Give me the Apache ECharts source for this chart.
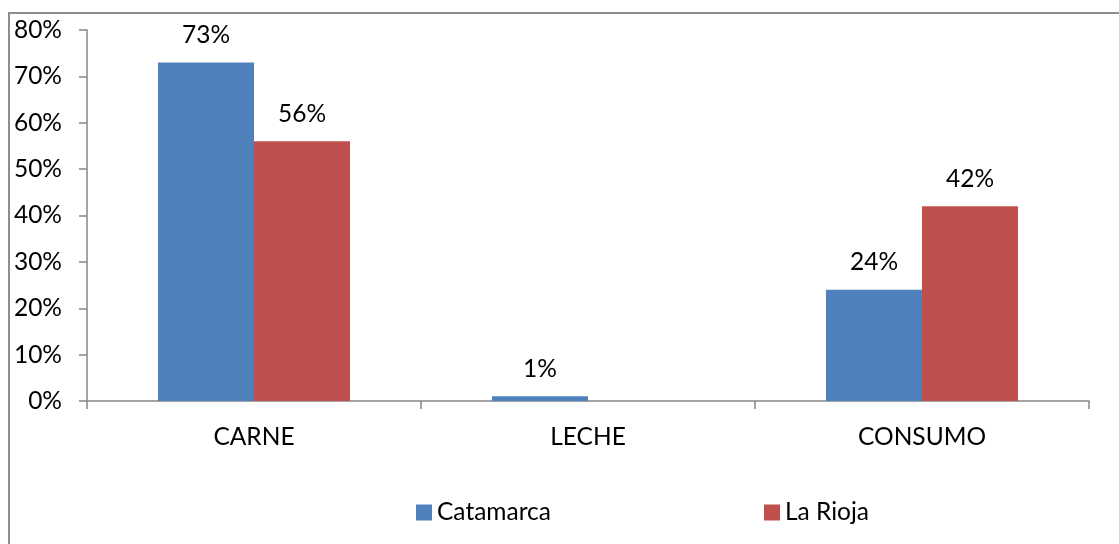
<!DOCTYPE html>
<html><head><meta charset="utf-8">
<script src="https://cdn.jsdelivr.net/npm/echarts@6/dist/echarts.min.js"></script>
<style>html,body{margin:0;padding:0;background:#fff}#c{width:1119px;height:544px}</style>
</head><body><div id="c"></div>
<script>
const categories = ['CARNE', 'LECHE', 'CONSUMO'];
const catamarca = [73, 1, 24];
const laRioja = [56, 0, 42];
const yTicks = [0, 10, 20, 30, 40, 50, 60, 70, 80];

const FONT = 'Lato';
const FS = 24.5;
const chart = echarts.init(document.getElementById('c'));
const labelCfg = {
  show: true, position: 'top', distance: 15, color: '#000', fontFamily: FONT, fontSize: FS,
  formatter: p => p.value ? p.value + '%' : ''
};
chart.setOption({
  animation: false,
  backgroundColor: '#fff',
  graphic: [{
    type: 'rect', shape: { x: 9, y: 13, width: 1130, height: 560 },
    style: { fill: 'none', stroke: '#8e8e8e', lineWidth: 2 }, silent: true
  }],
  grid: { left: 87, right: 30, top: 30, bottom: 143, containLabel: false },
  legend: [
    { data: ['Catamarca'], left: 411, top: 495, itemWidth: 16, itemHeight: 16, icon: 'rect',
      textStyle: { fontFamily: FONT, fontSize: FS, color: '#000' }, itemGap: 8 },
    { data: ['La Rioja'], left: 759, top: 495, itemWidth: 16, itemHeight: 16, icon: 'rect',
      textStyle: { fontFamily: FONT, fontSize: FS, color: '#000' } }
  ],
  xAxis: {
    type: 'category', data: categories,
    axisLine: { lineStyle: { color: '#868686', width: 1.5 } },
    axisTick: { show: true, length: 8, lineStyle: { color: '#868686', width: 1.5 } },
    axisLabel: { color: '#000', fontFamily: FONT, fontSize: FS, margin: 24 }
  },
  yAxis: {
    type: 'value', min: 0, max: 80, interval: 10,
    axisLine: { show: true, lineStyle: { color: '#868686', width: 1.5 } },
    axisTick: { show: true, length: 8, lineStyle: { color: '#868686', width: 1.5 } },
    splitLine: { show: false },
    axisLabel: { color: '#000', fontFamily: FONT, fontSize: FS, margin: 25,
      formatter: v => yTicks.includes(v) ? v + '%' : '' }
  },
  series: [
    { name: 'Catamarca', type: 'bar', data: catamarca, barGap: '0%', barCategoryGap: '42.5%',
      itemStyle: { color: '#4F81BD' }, label: labelCfg },
    { name: 'La Rioja', type: 'bar', data: laRioja, barGap: '0%', barCategoryGap: '42.5%',
      itemStyle: { color: '#C0504D' }, label: labelCfg }
  ]
});
</script></body></html>
